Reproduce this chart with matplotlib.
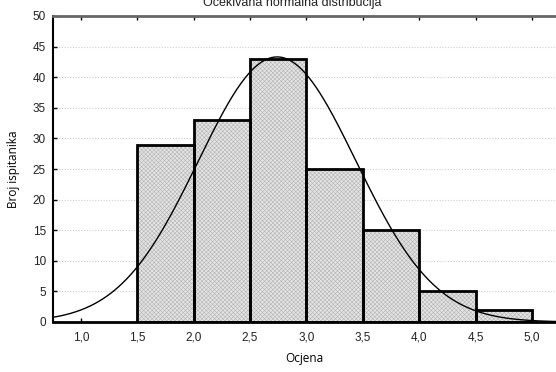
import numpy as np
import matplotlib.pyplot as plt
from matplotlib.ticker import FuncFormatter

# histogram data (grade bins, number of respondents)
bin_left = [1.5, 2.0, 2.5, 3.0, 3.5, 4.0, 4.5]
counts = [29, 33, 43, 25, 15, 5, 2]
bin_width = 0.5

# fitted normal curve parameters
mu = 2.74
sigma = 0.70
n_total = sum(counts)

x_ticks = [1.0, 1.5, 2.0, 2.5, 3.0, 3.5, 4.0, 4.5, 5.0]
y_ticks = list(range(0, 51, 5))

plt.rcParams['hatch.linewidth'] = 0.4

fig = plt.figure(figsize=(5.56, 3.72), dpi=100)
ax = fig.add_axes([53 / 556, 1 - 322 / 372, 503 / 556, 306 / 372])

# hatched fill first, then thick outlines on top
ax.bar(bin_left, counts, width=bin_width, align='edge', color='#e4e4e4',
       edgecolor='#b4b4b4', hatch='xxxxxxxx', linewidth=0, zorder=2)
ax.bar(bin_left, counts, width=bin_width, align='edge', fill=False,
       edgecolor='black', linewidth=2, zorder=3)

xs = np.linspace(0.7, 5.3, 400)
ys = n_total * bin_width * np.exp(-0.5 * ((xs - mu) / sigma) ** 2) / (sigma * np.sqrt(2 * np.pi))
ax.plot(xs, ys, color='black', linewidth=1.0, zorder=4)

ax.set_xlim(0.752, 5.213)
ax.set_ylim(0, 50)
ax.set_xticks(x_ticks)
ax.set_yticks(y_ticks)
ax.xaxis.set_major_formatter(FuncFormatter(lambda v, p: f"{v:.1f}".replace('.', ',')))

ax.yaxis.grid(True, linestyle=(0, (1, 1.5)), color='#d0d0d0', linewidth=0.8, zorder=0)
ax.set_axisbelow(True)

ax.tick_params(axis='both', direction='in', length=3, width=1, color='black',
               labelsize=8.5, labelcolor='#222222', top=True, right=False)
ax.tick_params(axis='x', pad=7)
ax.tick_params(axis='y', pad=5)
for lab in ax.get_xticklabels() + ax.get_yticklabels():
    lab.set_family('Liberation Sans')

ax.spines['right'].set_visible(False)
ax.spines['top'].set_color('#666666')
ax.spines['top'].set_linewidth(2)
ax.spines['left'].set_linewidth(1.5)
ax.spines['bottom'].set_linewidth(2)

ax.set_xlabel('Ocjena', family='Open Sans', fontsize=8.5, labelpad=6)
ax.set_ylabel('Broj ispitanika', family='Open Sans', fontsize=8.5, labelpad=9)

fig.text(0.525, 1 - 6 / 372, 'Očekivana normalna distribucija', ha='center',
         va='baseline', family='Liberation Sans', fontsize=9, color='#222222')

fig.savefig('out.png', dpi=100)
